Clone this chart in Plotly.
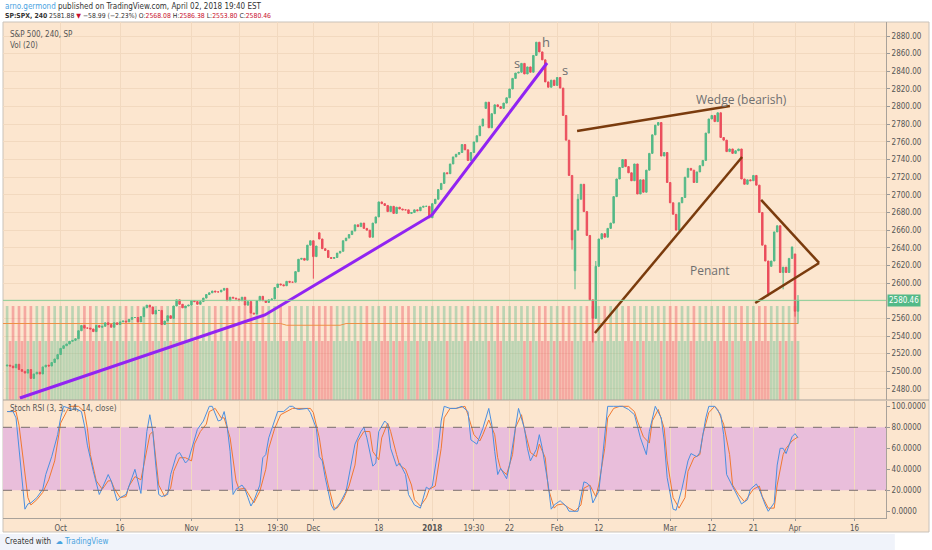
import pandas as pd
import plotly.graph_objects as go

# SP:SPX 240 min: two bars per trading day (one on the half day after Thanksgiving)
holidays = ["2017-11-23", "2017-12-25", "2018-01-01", "2018-01-15", "2018-02-19", "2018-03-30"]
half_days = ["2017-11-24"]
days = [d for d in pd.bdate_range("2017-09-19", "2018-04-02").strftime("%Y-%m-%d") if d not in holidays]

# close of each bar, one row per trading day (midday bar, closing bar)
closes = [
    [2507, 2506], [2504, 2508], [2502, 2500], [2498, 2502],                  # Sep 19-22
    [2492, 2497], [2499, 2497], [2505, 2507], [2506, 2510], [2514, 2519],    # Sep 25-29
    [2526, 2529], [2531, 2534], [2535, 2537], [2546, 2552], [2549, 2549],    # Oct 2-6
    [2548, 2545], [2552, 2550], [2551, 2555], [2553, 2550], [2555, 2553],    # Oct 9-13
    [2556, 2557], [2556, 2559], [2561, 2561], [2556, 2562], [2572, 2575],    # Oct 16-20
    [2573, 2565], [2569, 2569], [2553, 2557], [2563, 2560], [2574, 2581],    # Oct 23-27
    [2576, 2572], [2574, 2575], [2580, 2579], [2576, 2579], [2583, 2587],    # Oct 30-Nov 3
    [2589, 2591], [2590, 2590], [2592, 2594], [2580, 2584], [2583, 2582],    # Nov 6-10
    [2580, 2584], [2575, 2579], [2566, 2565], [2580, 2585], [2580, 2578],    # Nov 13-17
    [2581, 2582], [2595, 2599], [2598, 2597], [2602],                        # Nov 20-24
    [2601, 2601], [2613, 2627], [2628, 2626], [2643, 2648], [2630, 2642],    # Nov 27-Dec 1
    [2650, 2639], [2637, 2629], [2628, 2629], [2634, 2636], [2648, 2651],    # Dec 4-8
    [2655, 2659], [2666, 2664], [2668, 2662], [2660, 2652], [2668, 2675],    # Dec 11-15
    [2692, 2690], [2688, 2681], [2687, 2679], [2686, 2684], [2683, 2683],    # Dec 18-22
    [2679, 2680], [2683, 2682], [2686, 2687], [2687, 2674],                  # Dec 26-29
    [2690, 2695], [2706, 2713], [2725, 2724], [2735, 2743],                  # Jan 2-5
    [2746, 2748], [2757, 2751], [2739, 2748], [2760, 2767], [2778, 2786],    # Jan 8-12
    [2805, 2776], [2792, 2802], [2800, 2798], [2804, 2810],                  # Jan 16-19
    [2820, 2832], [2838, 2839], [2849, 2837], [2845, 2839], [2858, 2873],    # Jan 22-26
    [2862, 2853], [2828, 2822], [2830, 2824], [2833, 2821], [2790, 2762],    # Jan 29-Feb 2
    [2722, 2649], [2660, 2695], [2712, 2681], [2654, 2581], [2560, 2619],    # Feb 5-9
    [2650, 2656], [2652, 2662], [2668, 2698], [2718, 2731], [2740, 2732],    # Feb 12-16
    [2725, 2716], [2735, 2701], [2717, 2703], [2728, 2747],                  # Feb 20-23
    [2768, 2779], [2782, 2744], [2748, 2714], [2691, 2678], [2660, 2691],    # Feb 26-Mar 2
    [2697, 2720], [2730, 2728], [2714, 2726], [2733, 2739], [2770, 2786],    # Mar 5-9
    [2790, 2783], [2793, 2765], [2762, 2749], [2752, 2747], [2750, 2752],    # Mar 12-16
    [2718, 2712], [2717, 2716], [2722, 2711], [2680, 2643], [2625, 2588],    # Mar 19-23
    [2625, 2658], [2665, 2612], [2618, 2612], [2628, 2641],                  # Mar 26-29
    [2568.08, 2580.46],                                                      # Apr 2
]
first_open = 2506
# gaps and wicks that stand out on the chart, keyed "date/bar of day"
open_gaps = {"2017-12-04/0": 2657, "2018-01-16/0": 2798, "2018-02-06/0": 2614,
             "2018-03-26/0": 2619, "2018-04-02/0": 2633}
highs_seen = {"2018-01-26/1": 2873, "2018-02-06/1": 2701, "2018-02-09/1": 2625,
              "2018-04-02/1": 2586.38}
lows_seen = {"2017-12-01/0": 2605, "2018-02-05/1": 2638, "2018-02-06/0": 2593,
             "2018-02-08/1": 2580, "2018-02-09/0": 2532.7, "2018-03-23/1": 2585,
             "2018-03-28/0": 2593, "2018-04-02/0": 2562, "2018-04-02/1": 2553.80}
vol_first, vol_second = 940, 590

# Stoch RSI (3, 3, 14, 14, close): %K (blue) and %D (orange), read at bar positions
k_bars = [0, 2, 3, 4, 5, 6, 7, 8, 10, 12, 13, 15, 17, 18, 19, 22, 23, 25, 26, 27, 29, 31, 32, 34, 35,
          36, 37, 38, 40, 42, 43, 45, 46, 47, 48, 49, 50, 51, 52, 54, 55, 57, 58, 60, 61, 63, 64, 66,
          68, 69, 70, 71, 72, 73, 74, 75, 76, 77, 79, 80, 81, 82, 83, 85, 86, 87, 88, 90, 91, 93, 95,
          96, 97, 98, 101, 102, 104, 105, 106, 107, 109, 110, 112, 114, 115, 117, 119, 120, 121, 123,
          124, 125, 127, 128, 129, 131, 132, 134, 135, 137, 139, 140, 141, 142, 143, 145, 146, 147,
          149, 151, 153, 155, 156, 158, 160, 162, 163, 164, 165, 166, 168, 169, 171, 172, 174, 175,
          176, 178, 179, 180, 182, 183, 184, 186, 188, 189, 192, 193, 194, 195, 196, 197, 199, 200,
          201, 202, 204, 207, 209, 211, 212, 213, 215, 216, 218, 220, 221, 222, 224, 225, 227, 229,
          230, 232, 233, 235, 236, 238, 240, 241, 242, 244, 245, 247, 249, 250, 252, 253, 255, 256,
          258, 259, 260, 261, 262, 264, 265, 266]
k_vals = [95, 95, 89, 60, 25, 2, 7, 8, 13, 21, 35, 52, 73, 89, 100, 97, 98, 95, 82, 63, 38, 16, 22, 35, 29,
          19, 10, 13, 16, 32, 40, 17, 44, 76, 92, 76, 44, 16, 14, 16, 35, 54, 56, 46, 49, 67, 78, 86,
          100, 100, 92, 86, 87, 95, 81, 57, 16, 21, 25, 21, 13, 5, 10, 25, 51, 54, 70, 86, 95, 95, 100,
          100, 98, 97, 98, 94, 79, 52, 48, 32, 6, 1, 8, 19, 35, 64, 76, 80, 70, 43,
          46, 76, 86, 83, 60, 43, 46, 35, 16, 6, 3, 13, 23, 21, 24, 60, 86, 100,
          98, 98, 100, 95, 68, 64, 79, 98, 83, 57, 35, 41, 31, 44, 83, 98, 79, 60,
          48, 59, 73, 60, 25, 2, 6, 10, 5, 0, 0, 13, 28, 27, 24, 8, 19, 44,
          76, 100, 100, 100, 97, 92, 81, 70, 54, 76, 100, 89, 67, 32, 2, 1, 22, 48,
          55, 52, 56, 89, 100, 100, 92, 73, 35, 24, 19, 7, 11, 21, 26, 21, 6, 0,
          8, 44, 60, 60, 55, 71, 74, 70]
d_bars = [0, 3, 4, 6, 7, 8, 10, 12, 14, 16, 17, 18, 20, 21, 24, 26, 27, 28, 30, 32, 34, 35, 36, 38, 40,
          41, 43, 45, 46, 48, 49, 50, 51, 53, 55, 56, 58, 60, 62, 63, 65, 67, 68, 70, 72, 73, 75, 77,
          78, 80, 82, 83, 85, 87, 88, 90, 92, 94, 96, 102, 103, 105, 106, 108, 110, 111, 113, 115, 117,
          118, 120, 122, 123, 125, 126, 128, 129, 131, 132, 134, 136, 137, 139, 141, 142, 144, 146,
          147, 149, 151, 154, 155, 157, 159, 160, 162, 164, 165, 166, 168, 170, 171, 173, 174, 176,
          178, 179, 181, 182, 184, 185, 187, 189, 191, 193, 194, 196, 198, 199, 201, 202, 204, 206,
          209, 211, 212, 214, 216, 217, 219, 221, 222, 224, 226, 228, 229, 231, 233, 234, 236, 238,
          239, 241, 243, 244, 246, 248, 249, 251, 253, 254, 256, 258, 259, 261, 262, 264, 266]
d_vals = [95, 95, 82, 35, 13, 6, 11, 18, 30, 48, 67, 84, 95, 100, 100, 95, 79, 54, 29, 21, 29, 29, 22, 13, 14,
          24, 33, 30, 44, 73, 76, 51, 25, 14, 22, 38, 51, 51, 48, 64, 76, 83, 95, 98, 89, 89, 70, 29,
          21, 22, 13, 8, 19, 40, 60, 79, 92, 95, 98, 98, 94, 70, 51, 25, 3, 3, 11, 24, 44,
          67, 76, 76, 57, 49, 70, 84, 76, 54, 44, 40, 25, 11, 5, 13, 21, 24, 60,
          89, 98, 98, 100, 92, 73, 67, 73, 87, 73, 51, 40, 35, 54, 80, 92, 78, 56,
          52, 64, 51, 22, 3, 6, 7, 3, 0, 6, 22, 25, 14, 25, 60, 89, 98, 100,
          100, 95, 86, 71, 65, 86, 97, 79, 48, 13, 3, 13, 38, 51, 54, 73, 94, 100,
          97, 83, 54, 25, 16, 9, 13, 21, 24, 14, 3, 3, 25, 54, 60, 67, 71]

# time axis labels: (date, bar of day, text)
tick_marks = [("2017-10-02", 0, "Oct"), ("2017-10-16", 0, "16"), ("2017-11-01", 0, "Nov"),
              ("2017-11-13", 0, "13"), ("2017-11-21", 1, "19:30"), ("2017-12-01", 0, "Dec"),
              ("2017-12-18", 0, "18"), ("2018-01-02", 0, "<b>2018</b>"), ("2018-01-11", 0, "19:30"),
              ("2018-01-22", 0, "22"), ("2018-02-01", 0, "Feb"), ("2018-02-12", 0, "12"),
              ("2018-03-01", 0, "Mar"), ("2018-03-12", 0, "12"), ("2018-03-21", 0, "21"),
              ("2018-04-02", 0, "Apr"), ("2018-04-16", 0, "16")]
# price scale labels (2580 is hidden under the last-price tag)
price_ticks = [2480, 2500, 2520, 2540, 2560, 2600, 2620, 2640, 2660, 2680, 2700, 2720, 2740,
               2760, 2780, 2800, 2820, 2840, 2860, 2880]

# drawings on the chart, in (bar, price)
uptrend = [(4.3, 2469.8), (86.7, 2563.9), (142.9, 2677.2), (181.6, 2849.4)]
brown_lines = [[(191.7, 2772.4), (243.1, 2800.7)],
               [(197.7, 2543.5), (247.2, 2742.9)],
               [(253.6, 2694.2), (273.1, 2622.8)],
               [(251.6, 2577.4), (273.1, 2622.8)]]
chart_notes = [(246.9, 2808.6, "Wedge (bearish)"), (236.4, 2614.8, "Penant"),
               (171.5, 2849.4, "s"), (181.3, 2873.2, "h"), (187.6, 2841.5, "s")]

# ---- build the bars
keys, close = [], []
for day, row in zip(days, closes):
    for s, c in enumerate(row):
        keys.append(f"{day}/{s}")
        close.append(c)
n = len(close)
bars = list(range(n))
opens = [first_open] + close[:-1]
opens = [open_gaps.get(k, o) for k, o in zip(keys, opens)]
high = [highs_seen.get(k, max(o, c)) for k, o, c in zip(keys, opens, close)]
low = [lows_seen.get(k, min(o, c)) for k, o, c in zip(keys, opens, close)]
volume = [vol_first if k.endswith("/0") and k[:10] not in half_days else vol_second for k in keys]
vol_ma = pd.Series([vol_first, vol_second] * 10 + volume).rolling(20).mean().iloc[20:].tolist()
# the volume MA is plotted at every other bar, as it appears on the chart
ma_x = [-2] + bars[::2] + [bars[-1]]
ma_y = [vol_ma[0]] + vol_ma[::2] + [vol_ma[-2]]

future = pd.bdate_range("2018-04-03", "2018-04-16").strftime("%Y-%m-%d").tolist()
index_of = {k: i for i, k in enumerate(keys)}
for j, d in enumerate(future):
    index_of[f"{d}/0"] = n + 2 * j
tick_vals = [index_of[f"{d}/{s}"] for d, s, _ in tick_marks]
tick_text = [t for _, _, t in tick_marks]

UP, DOWN = "#53b987", "#eb4d5c"
BG = "#fce6cf"
GRID = "#f2d9bf"
FONT = "DejaVu Sans Condensed, Liberation Sans Narrow, Liberation Sans, sans-serif"
vol_colors = ["rgba(83,185,135,0.38)" if c >= o else "rgba(235,77,92,0.40)" for o, c in zip(opens, close)]

fig = go.Figure()
fig.add_trace(go.Bar(x=bars, y=volume, marker_color=vol_colors, marker_line_width=0,
                     xaxis="x", yaxis="y", hoverinfo="skip"))
fig.add_trace(go.Scatter(x=ma_x, y=ma_y, mode="lines",
                         line=dict(color="#ee9045", width=1), xaxis="x", yaxis="y"))
fig.add_trace(go.Candlestick(x=bars, open=opens, high=high, low=low, close=close,
                             increasing=dict(line=dict(color=UP, width=1), fillcolor=UP),
                             decreasing=dict(line=dict(color=DOWN, width=1), fillcolor=DOWN),
                             whiskerwidth=0, xaxis="x", yaxis="y2"))
fig.add_trace(go.Scatter(x=[p[0] for p in uptrend], y=[p[1] for p in uptrend], mode="lines",
                         line=dict(color="#9124f2", width=3), xaxis="x", yaxis="y2"))
for seg in brown_lines:
    fig.add_trace(go.Scatter(x=[p[0] for p in seg], y=[p[1] for p in seg], mode="lines",
                             line=dict(color="#7a3b0d", width=2.5), xaxis="x", yaxis="y2"))
fig.add_trace(go.Scatter(x=d_bars, y=d_vals, mode="lines", line=dict(color="#f07830", width=1),
                         xaxis="x", yaxis="y3"))
fig.add_trace(go.Scatter(x=k_bars, y=k_vals, mode="lines", line=dict(color="#4a8fe0", width=1),
                         xaxis="x", yaxis="y3"))

shapes = [
    # chart frame and footer strip
    dict(type="rect", xref="paper", yref="paper", x0=0, x1=1.0487, y0=-0.0282, y1=1,
         fillcolor=BG, line=dict(color="#c9c2ba", width=1), layer="below"),
    dict(type="rect", xref="paper", yref="paper", x0=-0.01, x1=1.01, y0=-0.0645, y1=-0.0323,
         fillcolor="#f0f3fa", line=dict(width=0), layer="below"),
    dict(type="line", xref="paper", yref="paper", x0=0, x1=1.0487, y0=0.2379, y1=0.2379,
         line=dict(color="#a9a29a", width=1)),
    dict(type="line", xref="x domain", yref="y2", x0=0, x1=1, y0=2580, y1=2580,
         line=dict(color=GRID, width=1), layer="below"),
    # Stoch RSI band
    dict(type="rect", xref="x domain", yref="y3", x0=0, x1=1, y0=20, y1=80,
         fillcolor="#e9bedb", line=dict(width=0), layer="below"),
    dict(type="line", xref="x domain", yref="y3", x0=0, x1=1, y0=80, y1=80,
         line=dict(color="#7a6e6e", width=1, dash="dash")),
    dict(type="line", xref="x domain", yref="y3", x0=0, x1=1, y0=20, y1=20,
         line=dict(color="#7a6e6e", width=1, dash="dash")),
    # last price line
    dict(type="line", xref="x domain", yref="y2", x0=0, x1=1, y0=close[-1], y1=close[-1],
         line=dict(color="#86cf98", width=1)),
]

notes = [dict(x=b, y=p, xref="x", yref="y2", text=t, showarrow=False,
              font=dict(family="Open Sans, sans-serif", size=12 if len(t) > 1 else 13, color="#6f6f6f"))
         for b, p, t in chart_notes]
small = dict(family=FONT, size=8, color="#555")
notes += [
    dict(x=0, y=1.032, xref="paper", yref="paper", xanchor="left", yanchor="middle", showarrow=False,
         font=dict(family=FONT, size=8, color="#333"),
         text="<span style='color:#4aa3df'>arno.germond</span> published on TradingView.com, April 02, 2018 19:40 EST"),
    dict(x=0, y=1.012, xref="paper", yref="paper", xanchor="left", yanchor="middle", showarrow=False,
         font=dict(family=FONT, size=6.8, color="#333"),
         text="<b>SP:SPX, 240</b> 2581.88 <span style='color:#c8102e'>▼</span> −58.99 (−2.23%) "
              "O:<span style='color:#c8102e'>2568.08</span> H:<span style='color:#c8102e'>2586.38</span> "
              "L:<span style='color:#c8102e'>2553.80</span> C:<span style='color:#c8102e'>2580.46</span>"),
    dict(x=0.006, y=0.9758, xref="paper", yref="paper", xanchor="left", yanchor="middle", showarrow=False,
         font=small, text="S&P 500, 240, SP"),
    dict(x=0.006, y=0.9536, xref="paper", yref="paper", xanchor="left", yanchor="middle", showarrow=False,
         font=small, text="Vol (20)"),
    dict(x=0.006, y=0.2198, xref="paper", yref="paper", xanchor="left", yanchor="middle", showarrow=False,
         font=small, text="Stoch RSI (3, 3, 14, 14, close)"),
    dict(x=1.001, y=close[-1], xref="paper", yref="y2", xanchor="left", yanchor="middle", showarrow=False,
         text=f"{close[-1]:.2f}", bgcolor="#53b987", borderpad=1, font=dict(family=FONT, size=8, color="white")),
    dict(x=0, y=-0.0464, xref="paper", yref="paper", xanchor="left", yanchor="middle", showarrow=False,
         font=dict(family=FONT, size=8, color="#333"),
         text="Created with  <span style='color:#4aa3df'>☁ TradingView</span>"),
]

axis_font = dict(family=FONT, size=8, color="#555")
fig.update_layout(
    width=932, height=550,
    margin=dict(l=3, r=46, t=22, b=32),
    paper_bgcolor="white", plot_bgcolor=BG,
    showlegend=False, bargap=0.1,
    xaxis=dict(range=[-1.38, 295.6], anchor="y3", tickvals=tick_vals, ticktext=tick_text,
               tickfont=axis_font, ticks="outside", ticklen=2, tickcolor="#999",
               showgrid=True, gridcolor=GRID, zeroline=False, rangeslider=dict(visible=False),
               showline=True, linecolor="#a9a29a"),
    yaxis=dict(domain=[0.2379, 1], range=[0, 3780], visible=False, fixedrange=True),
    yaxis2=dict(overlaying="y", side="right", range=[2467.5, 2895.9], tickvals=price_ticks,
                tickformat=".2f", tickfont=axis_font, ticks="outside", ticklen=3, tickcolor="#999",
                showgrid=True, gridcolor=GRID, zeroline=False, showline=True, linecolor="#a9a29a"),
    yaxis3=dict(domain=[0, 0.2349], side="right", range=[-6.4, 104.6], tickvals=[0, 20, 40, 60, 80, 100],
                tickformat=".4f", tickfont=axis_font, ticks="outside", ticklen=3, tickcolor="#999",
                showgrid=False, zeroline=False, showline=True, linecolor="#a9a29a"),
    shapes=shapes, annotations=notes,
)

fig.write_html("out.html", config={"displayModeBar": False},
               post_script="document.body.style.margin='0';document.body.style.overflow='hidden';")
